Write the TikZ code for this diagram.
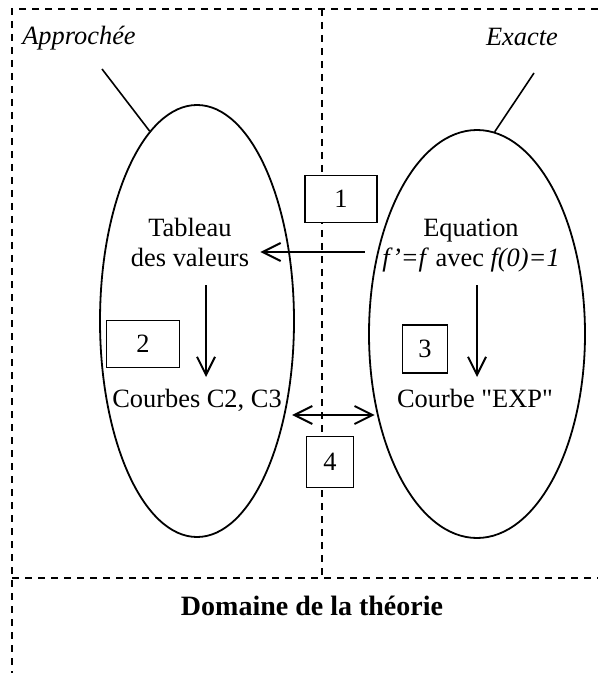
\documentclass[tikz,border=0pt]{standalone}
\usepackage{fontspec}
\setmainfont{Liberation Serif}[Ligatures=TeXOff]
\usepackage{tikz}
\usetikzlibrary{arrows.meta,shapes.geometric}
\newcommand{\figfont}{\fontsize{13.2}{15}\selectfont}
\tikzset{
  zone/.style={draw, dash pattern=on 3.5pt off 3pt, line width=0.8pt},
  oval/.style={ellipse, draw, line width=0.9pt, inner sep=0pt},
  numbox/.style={draw, fill=white, line width=0.9pt, inner sep=0pt},
  txt/.style={inner sep=0pt, anchor=base},
  tagtext/.style={txt, font=\figfont\itshape},
  leader/.style={line width=0.8pt},
  flow/.style={-{Straight Barb[length=9pt,width=9pt]}, line width=1pt},
  twoway/.style={{Straight Barb[length=9pt,width=9pt]}-{Straight Barb[length=9pt,width=9pt]}, line width=1pt}
}
\begin{document}
\begin{tikzpicture}[x=0.5pt, y=-0.5pt, font=\figfont]
  \useasboundingbox (0,0) rectangle (598,673);
  % dashed frame of the two domains
  \coordinate (tl) at (12,9);
  \coordinate (tr) at (598,9);
  \coordinate (bl) at (12,673);
  \coordinate (mt) at (322,9);
  \coordinate (mb) at (322,578);
  \coordinate (ml) at (12,578);
  \coordinate (mr) at (598,578);
  \draw[zone] (tr) -- (tl) -- (bl);
  \draw[zone] (mt) -- (mb);
  \draw[zone] (ml) -- (mr);
  % the two ellipses and their labels
  \node[oval, minimum width=97pt, minimum height=216pt] (approx) at (197,321) {};
  \node[oval, minimum width=108pt, minimum height=204pt] (exact) at (477,334) {};
  \node[tagtext] (lapprox) at (79,45) {Approchée};
  \node[tagtext] (lexact) at (522,46) {Exacte};
  \coordinate (pa) at (102,69);
  \coordinate (pe) at (534,73);
  \draw[leader] (approx.104) -- (pa);
  \draw[leader] (exact.85) -- (pe);
  % texts
  \node[txt] (tab1) at (190,237) {Tableau};
  \node[txt] (tab2) at (190,267) {des valeurs};
  \node[txt] (eq1) at (471,237) {Equation};
  \node[txt] (eq2) at (471,267) {\textit{f’=f} avec \textit{f(0)=1}};
  \node[txt] (c2) at (197,407) {Courbes C2, C3};
  \node[txt] (exp) at (475,407) {Courbe "EXP"};
  \node[txt, font=\fontsize{14}{16}\selectfont\bfseries] (title) at (312,615) {Domaine de la théorie};
  % arrows
  \draw[flow] ([xshift=-8.5pt,yshift=7.5pt]eq2.base west) -- ([xshift=5.5pt,yshift=7.5pt]tab2.base east);
  \draw[flow] ([xshift=8pt,yshift=-9pt]tab2.base) -- ([xshift=4.5pt,yshift=15pt]c2.base);
  \draw[flow] ([xshift=3pt,yshift=-9pt]eq2.base) -- ([xshift=1pt,yshift=15pt]exp.base);
  \draw[twoway] ([xshift=5pt,yshift=-4pt]c2.base east) -- ([xshift=-11pt,yshift=-4pt]exp.base west);
  % numbered boxes
  \node[numbox, minimum width=36pt, minimum height=23.5pt] (n1) at (341,199) {1};
  \node[numbox, minimum width=36.5pt, minimum height=23.5pt] (n2) at (143,344) {2};
  \node[numbox, minimum width=22.5pt, minimum height=24pt] (n3) at (425,349) {3};
  \node[numbox, minimum width=23.5pt, minimum height=25.5pt] (n4) at (330,462) {4};
\end{tikzpicture}
\end{document}
